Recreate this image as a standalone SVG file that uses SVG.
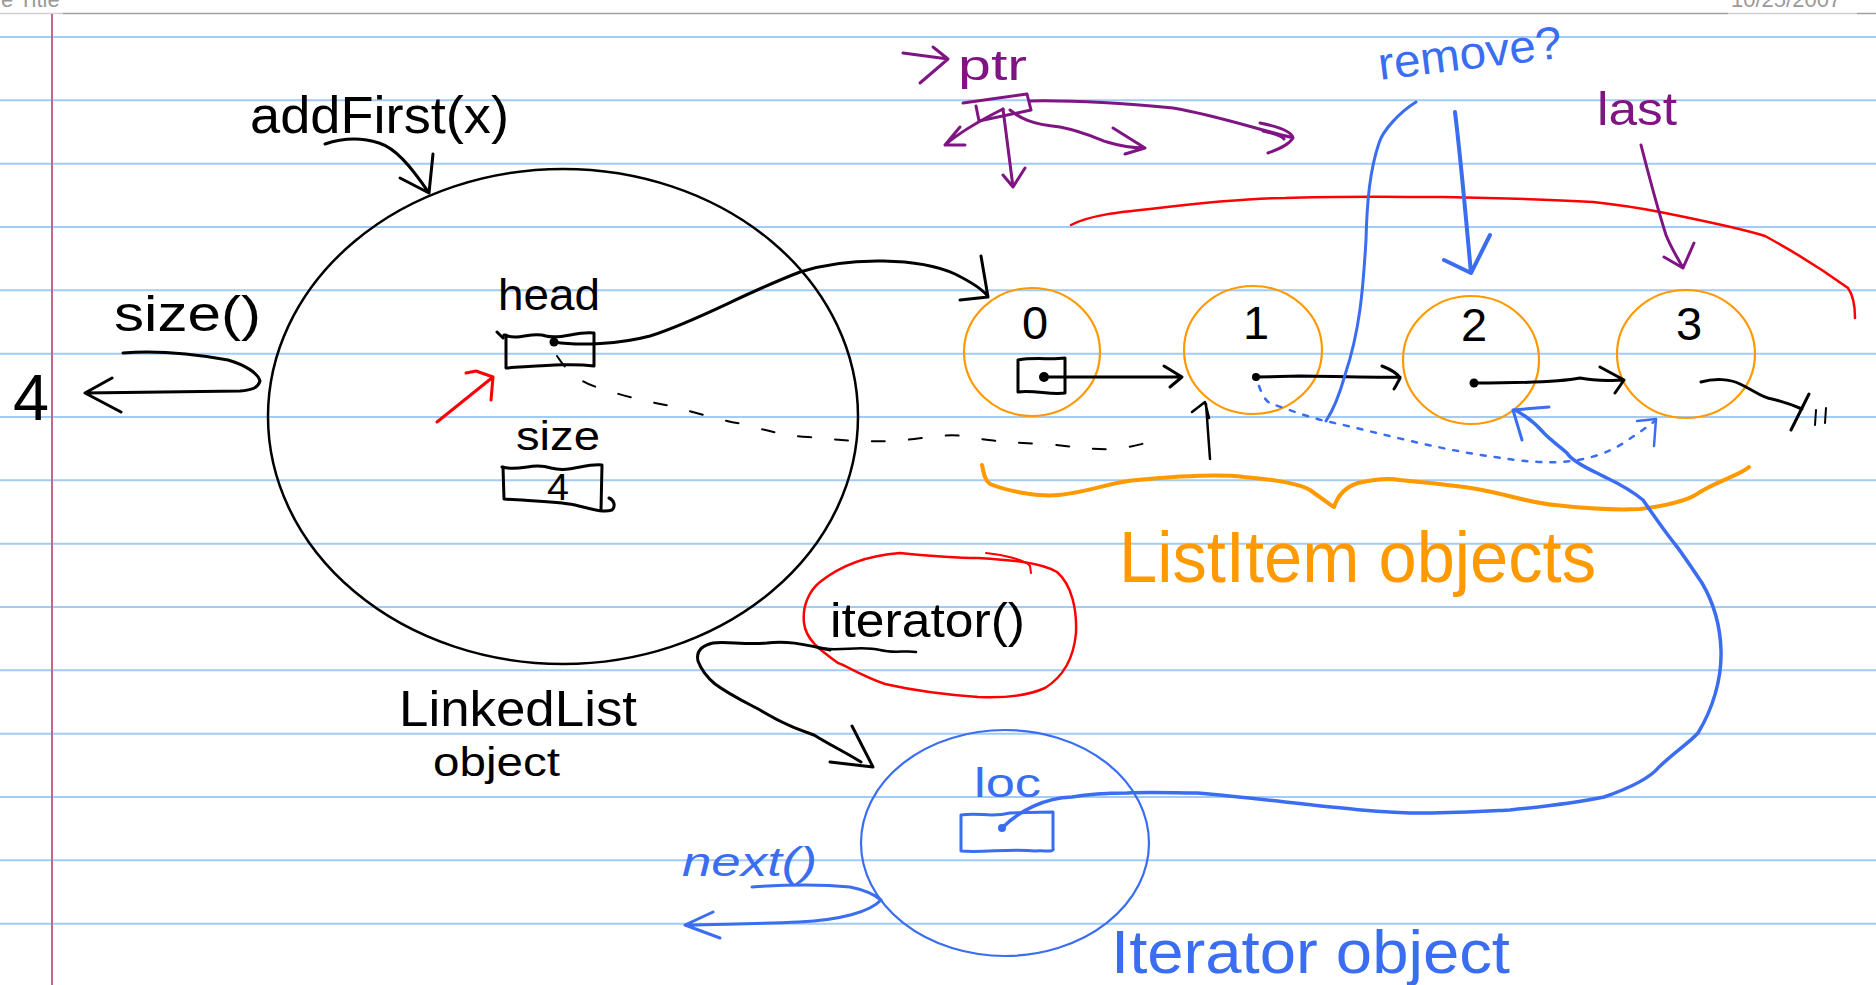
<svg xmlns="http://www.w3.org/2000/svg" width="1876" height="985" viewBox="0 0 1876 985">
  <style>
    .rule { stroke: #a2cbf6; stroke-width: 2; fill: none; }
    .ink { fill: none; stroke-linecap: round; stroke-linejoin: round; }
    .k { stroke: #000; }
    .o { stroke: #ff9900; }
    .b { stroke: #3a6df0; }
    .p { stroke: #7f1583; }
    .r { stroke: #ff0000; }
    .t { font-family: "Liberation Sans", "DejaVu Sans", sans-serif; }
    .tk { fill: #000; }
    .to { fill: #ff9900; }
    .tb { fill: #3a6df0; }
    .tp { fill: #7f1583; }
    .num { font-family: "Liberation Sans", "DejaVu Sans", sans-serif; font-size: 47px; fill: #000; text-anchor: middle; }
    .hdr { font-family: "Liberation Sans", sans-serif; font-size: 22px; fill: #9a9a9a; }
  </style>

  <!-- notebook page -->
  <rect width="1876" height="985" fill="#fff"/>
  <g id="page">
    <text class="hdr" x="1" y="7">e Title</text>
    <text class="hdr" x="1731" y="7">10/25/2007</text>
    <line x1="0" y1="13.5" x2="63" y2="13.5" stroke="#d0d0d0" stroke-width="1.5"/>
    <line x1="63" y1="13.5" x2="1728" y2="13.5" stroke="#a0a0a0" stroke-width="1.5"/>
    <line x1="1728" y1="13.5" x2="1857" y2="13.5" stroke="#d0d0d0" stroke-width="1.5"/>
    <line x1="1857" y1="13.5" x2="1876" y2="13.5" stroke="#a0a0a0" stroke-width="1.5"/>
    <g class="rule">
      <line x1="0" y1="37" x2="1876" y2="37"/>
      <line x1="0" y1="100.3" x2="1876" y2="100.3"/>
      <line x1="0" y1="163.7" x2="1876" y2="163.7"/>
      <line x1="0" y1="227" x2="1876" y2="227"/>
      <line x1="0" y1="290.3" x2="1876" y2="290.3"/>
      <line x1="0" y1="353.7" x2="1876" y2="353.7"/>
      <line x1="0" y1="417" x2="1876" y2="417"/>
      <line x1="0" y1="480.3" x2="1876" y2="480.3"/>
      <line x1="0" y1="543.7" x2="1876" y2="543.7"/>
      <line x1="0" y1="607" x2="1876" y2="607"/>
      <line x1="0" y1="670.3" x2="1876" y2="670.3"/>
      <line x1="0" y1="733.7" x2="1876" y2="733.7"/>
      <line x1="0" y1="797" x2="1876" y2="797"/>
      <line x1="0" y1="860.3" x2="1876" y2="860.3"/>
      <line x1="0" y1="923.7" x2="1876" y2="923.7"/>
    </g>
    <line x1="52" y1="14" x2="52" y2="985" stroke="#c4678f" stroke-width="2"/>
  </g>

  <!-- LinkedList object -->
  <g id="linkedlist">
    <ellipse class="ink k" cx="563" cy="416.5" rx="295" ry="247.5" stroke-width="2.5"/>
    <text class="t tk" x="498" y="310" font-size="44" textLength="102" lengthAdjust="spacingAndGlyphs">head</text>
    <path class="ink k" stroke-width="3" d="M497,332 L503,338 M504,335 C520,341 531,331 546,336 C561,340 576,331 594,333 L594,366 C570,363 540,366 506,368 L506,335"/>
    <circle cx="554" cy="342" r="4.5" fill="#000"/>
    <text class="t tk" x="516" y="450" font-size="40" textLength="84" lengthAdjust="spacingAndGlyphs">size</text>
    <path class="ink k" stroke-width="3" d="M502,467 C520,472 532,462 551,468 C570,473 585,463 602,465 L601,510 M503,467 L504,499 C530,501 555,501 575,505 C592,509 603,513 612,510 C616,506 614,500 609,498"/>
    <text class="t tk" x="547" y="500" font-size="36" textLength="22" lengthAdjust="spacingAndGlyphs">4</text>
    <text class="t tk" x="399" y="726" font-size="50" textLength="238" lengthAdjust="spacingAndGlyphs">LinkedList</text>
    <text class="t tk" x="433" y="776" font-size="40" textLength="127" lengthAdjust="spacingAndGlyphs">object</text>
  </g>

  <!-- method labels -->
  <g id="addfirst">
    <text class="t tk" x="250" y="133" font-size="52" textLength="259" lengthAdjust="spacingAndGlyphs">addFirst(x)</text>
  </g>
  <g id="size-call">
    <text class="t tk" x="114" y="331" font-size="50" textLength="147" lengthAdjust="spacingAndGlyphs">size()</text>
    <text class="t tk" x="13" y="420" font-size="64" textLength="36" lengthAdjust="spacingAndGlyphs">4</text>
  </g>
  <g id="iterator-call">
    <path class="ink r" stroke-width="2.5" d="M900,553 C920,555 950,558 978,558 C1010,560 1040,562 1057,572 C1072,585 1077,610 1076,633 C1074,655 1066,675 1045,688 C1025,697 1000,698 978,697 C950,695 920,692 885,684 C860,675 845,665 838,663 C820,650 806,640 804,623 C802,605 810,590 820,582 C835,570 860,556 900,553"/>
    <path class="ink r" stroke-width="2" d="M986,553 C1005,555 1025,560 1030,566 L1031,573"/>
    <text class="t tk" x="830" y="637" font-size="48" textLength="195" lengthAdjust="spacingAndGlyphs">iterator()</text>
    <path class="ink k" stroke-width="2.5" d="M818,648 C840,652 860,645 880,650 C895,654 905,650 916,652"/>
  </g>

  <!-- ptr sketch -->
  <g id="ptr">
    <text class="t tp" x="958" y="80" font-size="42" textLength="69" lengthAdjust="spacingAndGlyphs">ptr</text>
    <path class="ink p" stroke-width="3" d="M963,103 L1027,94 L1031,110 L979,121 L976,106"/>
  </g>

  <!-- remove? / last labels -->
  <g id="remove">
    <text class="t tb" x="1380" y="80" font-size="46" textLength="185" lengthAdjust="spacingAndGlyphs" transform="rotate(-7 1380 80)">remove?</text>
  </g>
  <g id="last">
    <text class="t tp" x="1597" y="125" font-size="46" textLength="80" lengthAdjust="spacingAndGlyphs">last</text>
  </g>

  <!-- ListItem objects -->
  <g id="item0">
    <ellipse class="ink o" cx="1032" cy="352" rx="68" ry="64" stroke-width="2.2"/>
    <text class="num" x="1035" y="339">0</text>
    <path class="ink k" stroke-width="3" d="M1018,360 L1018,392 C1035,390 1050,395 1065,393 L1065,358 C1050,360 1035,357 1018,360"/>
    <circle cx="1044" cy="377" r="5" fill="#000"/>
  </g>
  <g id="item1">
    <ellipse class="ink o" cx="1253" cy="350" rx="69" ry="64" stroke-width="2.2"/>
    <text class="num" x="1256" y="339">1</text>
    <circle cx="1256" cy="377" r="4" fill="#000"/>
  </g>
  <g id="item2">
    <ellipse class="ink o" cx="1471" cy="360" rx="68" ry="64" stroke-width="2.2"/>
    <text class="num" x="1474" y="341">2</text>
    <circle cx="1474" cy="383" r="4.5" fill="#000"/>
  </g>
  <g id="item3">
    <ellipse class="ink o" cx="1686" cy="354" rx="69" ry="64" stroke-width="2.2"/>
    <text class="num" x="1689" y="340">3</text>
  </g>
  <g id="listitem-label">
    <path class="ink o" stroke-width="4" d="M982,465 C984,475 985,480 990,484 C1010,492 1040,497 1059,495 C1090,492 1110,482 1137,480 C1180,476 1220,474 1244,477 C1280,480 1300,484 1310,490 C1320,497 1330,505 1334,507 C1338,495 1345,487 1358,483 C1375,479 1390,478 1400,480 C1440,484 1460,486 1477,489 C1510,495 1530,503 1555,505 C1590,509 1620,510 1640,509 C1665,506 1690,500 1700,492 C1720,480 1740,475 1749,467"/>
    <text class="t to" x="1119" y="582" font-size="72" textLength="477" lengthAdjust="spacingAndGlyphs">ListItem objects</text>
  </g>

  <!-- Iterator object -->
  <g id="iterator">
    <ellipse class="ink b" cx="1005" cy="843" rx="144" ry="113" stroke-width="2.2"/>
    <text class="t tb" x="974" y="797" font-size="40" textLength="67" lengthAdjust="spacingAndGlyphs">loc</text>
    <path class="ink b" stroke-width="3" d="M961,815 C980,812 990,818 1010,813 L1053,812 L1053,848 C1055,853 1045,850 1035,851 C1010,848 985,853 961,851 Z"/>
    <circle cx="1002" cy="828" r="4" fill="#3a6df0"/>
    <text class="t tb" x="1111" y="973" font-size="62" textLength="399" lengthAdjust="spacingAndGlyphs">Iterator object</text>
    <text class="t tb" x="682" y="876" font-size="40" font-style="italic" textLength="135" lengthAdjust="spacingAndGlyphs">next()</text>
  </g>

  <!-- connectors -->
  <g id="connectors" class="ink">
    <!-- addFirst(x) into LinkedList -->
    <path class="k" stroke-width="3" d="M325,144 C340,139 360,137 379,143 C395,148 410,165 429,193 M400,178 L429,193 L433,154"/>
    <!-- size() returns 4 -->
    <path class="k" stroke-width="3" d="M123,353 C160,350 200,355 228,360 C245,365 258,373 260,381 C258,388 252,390 240,391 L85,393 M112,378 L85,393 L121,412"/>
    <!-- head reference to item 0 -->
    <path class="k" stroke-width="3" d="M554,342 C580,346 620,344 650,336 C700,320 740,295 800,272 C850,256 920,258 955,274 C975,284 985,292 988,297 M981,256 L988,297 L960,300"/>
    <!-- red pointer at head -->
    <path class="r" stroke-width="3" d="M437,422 L493,377 M466,373 L476,371 L493,377 L491,400"/>
    <!-- head after addFirst: dashed path to item 1 -->
    <path class="k" stroke-width="2" stroke-dasharray="13 24" d="M557,356 C565,368 575,382 606,390 C630,398 650,402 671,406 C700,414 720,420 742,424 C765,430 785,436 808,437 C840,440 860,442 891,441 C920,440 945,432 969,437 C995,442 1020,443 1047,444 C1070,446 1090,450 1113,449 C1135,447 1150,442 1164,437"/>
    <path class="k" stroke-width="2.5" d="M1210,459 L1206,404 M1192,412 L1205,402 L1209,418"/>
    <!-- next links -->
    <path class="k" stroke-width="3" d="M1044,377 L1182,377 M1164,366 L1182,377 L1170,387"/>
    <path class="k" stroke-width="3" d="M1256,377 L1300,376 C1330,376 1360,378 1400,377 M1382,366 C1392,370 1398,374 1400,378 C1398,382 1396,386 1394,389"/>
    <path class="k" stroke-width="3" d="M1474,383 C1520,383 1560,382 1580,378 C1600,382 1615,380 1624,380 M1600,367 L1624,380 L1615,393"/>
    <!-- null terminator of item 3 -->
    <path class="k" stroke-width="3" d="M1701,382 C1715,378 1730,379 1740,384 C1755,391 1762,398 1772,399 C1785,402 1795,406 1802,409 M1791,430 L1809,394"/>
    <path class="k" stroke-width="2" d="M1816,410 L1815,425 M1826,408 L1825,423"/>
    <!-- ptr arrows -->
    <path class="p" stroke-width="3" d="M903,53 L948,59 M933,47 L948,59 L920,83"/>
    <path class="p" stroke-width="3" d="M1003,109 C985,118 960,132 945,145 M960,127 L945,145 L965,145"/>
    <path class="p" stroke-width="3" d="M1003,109 L1013,187 M1003,175 L1013,187 L1025,168"/>
    <path class="p" stroke-width="3" d="M1010,110 C1020,118 1030,124 1060,127 C1085,132 1100,140 1107,142 C1120,146 1135,148 1145,148 M1113,128 L1145,148 L1125,154"/>
    <path class="p" stroke-width="3" d="M1030,101 C1080,100 1130,104 1173,108 C1215,115 1260,130 1290,137 M1260,123 C1280,127 1292,132 1293,138 C1288,146 1276,150 1268,153 M1263,131 C1276,134 1283,137 1284,139"/>
    <!-- red span over the chain -->
    <path class="r" stroke-width="2.5" d="M1071,225 C1090,215 1120,212 1150,209 C1200,203 1250,198 1285,198 C1340,196 1400,197 1443,197 C1500,198 1560,200 1593,202 C1620,205 1640,208 1660,212 C1700,220 1740,228 1765,236 C1800,255 1830,275 1848,288 C1853,295 1855,305 1855,318"/>
    <!-- remove? arrows -->
    <path class="b" stroke-width="3" d="M1416,102 C1400,112 1383,130 1379,143 C1370,170 1367,200 1366,240 C1363,290 1360,330 1345,375 C1338,400 1332,412 1326,421"/>
    <path class="b" stroke-width="4" d="M1455,112 C1462,170 1466,220 1471,273 M1444,260 L1471,273 L1490,235"/>
    <path class="b" stroke-width="2.5" stroke-dasharray="5 9" d="M1259,386 C1262,395 1266,402 1272,404 C1290,410 1310,418 1330,422 C1380,433 1440,450 1495,457 C1520,461 1540,463 1560,462 C1590,460 1610,452 1625,442 C1640,432 1650,425 1656,420"/>
    <path class="b" stroke-width="2.5" d="M1637,421 L1656,419 L1654,446"/>
    <!-- last arrow -->
    <path class="p" stroke-width="3" d="M1641,145 C1650,180 1658,210 1666,235 C1672,250 1679,260 1683,268 M1664,257 L1683,268 L1694,243"/>
    <!-- iterator() creates Iterator object -->
    <path class="k" stroke-width="3" d="M830,650 C810,646 790,640 767,643 C745,645 725,641 713,643 C700,646 696,652 698,661 C702,672 708,678 715,684 C730,695 745,702 760,710 C785,725 800,730 814,735 C830,745 845,752 861,762 M830,762 L873,767 L852,726"/>
    <!-- loc reference to item 2 -->
    <path class="b" stroke-width="3.5" d="M1002,828 C1020,810 1045,798 1072,797 C1095,793 1110,793 1127,793 C1150,792 1175,793 1197,793 C1280,800 1360,813 1424,813 C1460,813 1490,811 1510,810 C1550,806 1580,802 1604,797 C1630,788 1650,778 1659,767 C1675,752 1690,742 1698,733 C1712,710 1722,680 1721,650 C1720,620 1712,600 1702,583 C1690,565 1680,550 1674,543 C1660,525 1650,510 1643,500 C1625,485 1610,480 1597,473 C1580,465 1570,458 1567,453 C1555,443 1545,435 1543,432 C1535,423 1528,417 1515,410"/>
    <path class="b" stroke-width="3" d="M1522,440 L1513,410 L1549,407"/>
    <!-- next() -->
    <path class="b" stroke-width="3" d="M752,887 C780,885 820,884 850,887 C865,890 875,895 881,900 C870,912 840,920 799,922 C760,924 720,924 689,925 M713,912 L685,925 L720,938"/>
  </g>
</svg>
